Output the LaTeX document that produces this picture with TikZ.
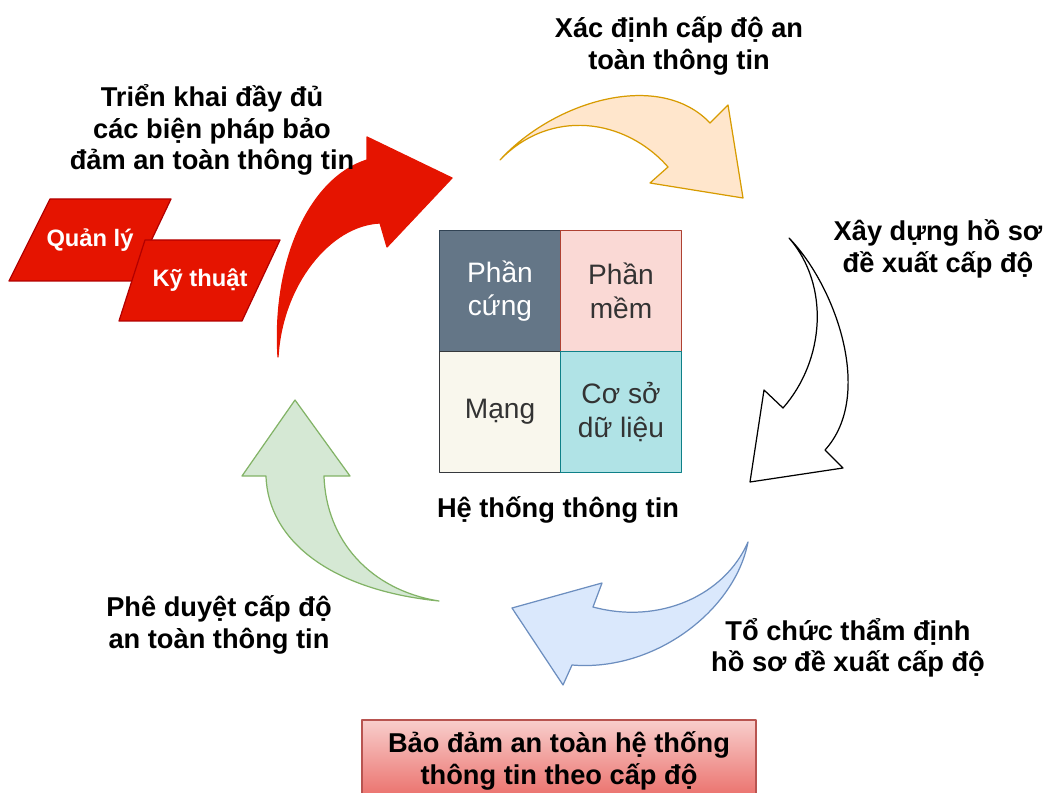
\documentclass[tikz,border=0pt]{standalone}
\usepackage{fontspec}
\setmainfont{Liberation Sans}
\usepackage{tikz}
\usetikzlibrary{positioning}
\definecolor{redfill}{HTML}{E51400}
\definecolor{redline}{HTML}{B20000}
\definecolor{orangefill}{HTML}{FFE6CC}
\definecolor{orangeline}{HTML}{D79B00}
\definecolor{bluefill}{HTML}{DAE8FC}
\definecolor{blueline}{HTML}{6C8EBF}
\definecolor{greenfill}{HTML}{D5E8D4}
\definecolor{greenline}{HTML}{82B366}
\definecolor{hwfill}{HTML}{647687}
\definecolor{hwline}{HTML}{314354}
\definecolor{swfill}{HTML}{FAD9D5}
\definecolor{swline}{HTML}{AE4132}
\definecolor{netfill}{HTML}{F9F7ED}
\definecolor{netline}{HTML}{36393D}
\definecolor{dbfill}{HTML}{B0E3E6}
\definecolor{dbline}{HTML}{0E8088}
\definecolor{goaltop}{HTML}{F8CECC}
\definecolor{goalbottom}{HTML}{EA6B66}
\definecolor{goalline}{HTML}{B85450}
\definecolor{celltext}{HTML}{333333}

\begin{document}
\begin{tikzpicture}[line cap=round,line join=round,x=0.02cm,y=-0.02cm,
  lbl/.style={align=center,font=\fontsize{15.5}{18}\selectfont\bfseries,text=black},
  cell/.style={draw,line width=0.7pt,minimum size=2.41cm,inner sep=0pt,outer sep=0pt,
    align=center,font=\fontsize{16}{19}\selectfont,text=celltext},
  tag/.style={align=center,font=\fontsize{13.5}{16}\selectfont\bfseries,text=white},
  shape line/.style={line width=0.7pt}]
\clip (0,0) rectangle (1050,793);
\draw [shape line, fill=orangefill, draw=orangeline] (500,160) .. controls (555,100) and (660,70) .. (710,123) -- (728,105) -- (743,198) -- (650,183) -- (668,167) .. controls (625,118) and (550,108) .. (500,160) -- cycle;
\draw [shape line, fill=white, draw=black] (789,238) .. controls (835,285) and (875,395) .. (825,450) -- (843,468) -- (750,482) -- (764,390) -- (783,408) .. controls (825,360) and (830,285) .. (789,238) -- cycle;
\draw [shape line, fill=bluefill, draw=blueline] (748,542) .. controls (735,610) and (655,672) .. (572,665) -- (563,685) -- (512,608) -- (602,583) -- (593,607) .. controls (660,625) and (725,595) .. (748,542) -- cycle;
\draw [shape line, fill=greenfill, draw=greenline] (439,601) .. controls (330,590) and (268,540) .. (266,476) -- (242,476) -- (295,400) -- (350,476) -- (324,476) .. controls (326,540) and (370,590) .. (439,601) -- cycle;
\draw [shape line, fill=redfill, draw=redfill] (278,357) .. controls (272,260) and (310,178) .. (367,160) -- (367,137) -- (452,178) -- (387,247) -- (380,223) .. controls (330,225) and (282,285) .. (278,357) -- cycle;
\draw [shape line, fill=redfill, draw=redline] (50,199) -- (171,199) -- (132,281) -- (9,281) -- cycle;
\draw [shape line, fill=redfill, draw=redline] (145,240) -- (280,240) -- (242,321) -- (119,321) -- cycle;
\node[tag] (mgmt) at (90,240) {Quản lý};
\node[tag] (tech) at (200,280) {Kỹ thuật};
\node[cell, fill=hwfill, draw=hwline, text=white] (hw) at (500,291) {Phần\\cứng};
\node[cell, fill=swfill, draw=swline] (sw) at (621,291) {Phần\\mềm};
\node[cell, fill=netfill, draw=netline] (net) at (500,412) {Mạng};
\node[cell, fill=dbfill, draw=dbline] (db) at (621,412) {Cơ sở\\dữ liệu};
\node[lbl] (system) at (558,510) {Hệ thống thông tin};
\node[lbl] (define) at (679,46) {Xác định cấp độ an\\toàn thông tin};
\node[lbl] (profile) at (938,249) {Xây dựng hồ sơ\\đề xuất cấp độ};
\node[lbl] (appraise) at (848,648) {Tổ chức thẩm định\\hồ sơ đề xuất cấp độ};
\node[lbl] (approve) at (219,625) {Phê duyệt cấp độ\\an toàn thông tin};
\node[lbl] (deploy) at (212,130) {Triển khai đầy đủ\\các biện pháp bảo\\đảm an toàn thông tin};
\node[lbl, draw=goalline, line width=0.7pt, top color=goaltop, bottom color=goalbottom,
  minimum width=7.88cm, minimum height=1.64cm] (goal) at (559,761) {Bảo đảm an toàn hệ thống\\thông tin theo cấp độ};
\end{tikzpicture}
\end{document}
